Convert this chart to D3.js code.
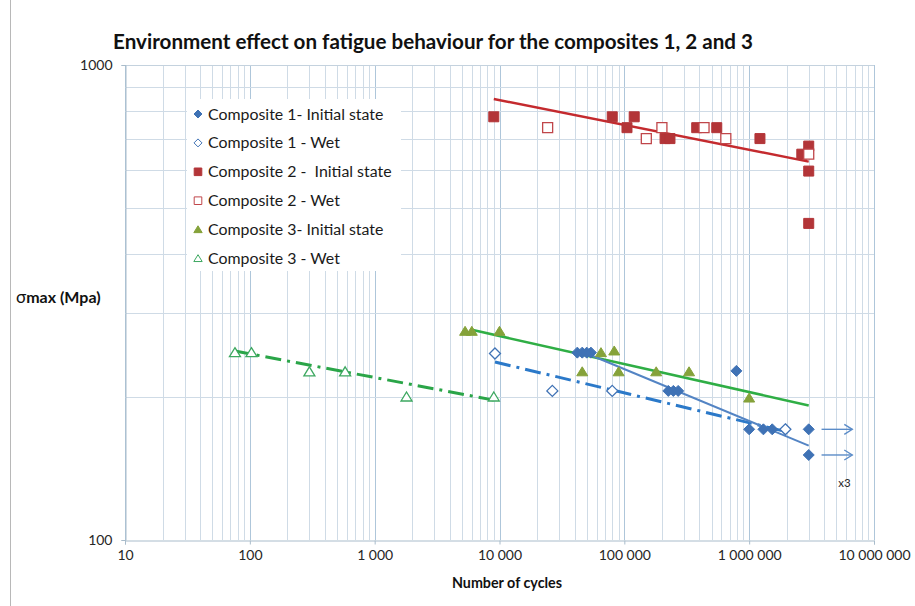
<!DOCTYPE html>
<html>
<head>
<meta charset="utf-8">
<script src="https://cdn.jsdelivr.net/npm/d3@7/dist/d3.min.js"></script>
<style>
  html, body { margin: 0; padding: 0; background: #fff; }
  svg { display: block; }
  text { font-family: Lato, "Open Sans", sans-serif; white-space: pre; }
</style>
</head>
<body>
<svg id="chart" width="915" height="606"></svg>
<script>
// Fatigue test results: [number of cycles, max stress (MPa)]
const comp1Initial = [[42000,248],[46000,248],[50000,248],[54000,248],[225000,206],[247000,206],[270000,206],[790000,227],[1000000,171],[1300000,171],[1530000,171],[3000000,171],[3000000,151]];
const comp1Wet = [[9200,247],[26500,206],[80000,206],[1950000,171]];
const comp2Initial = [[9000,778],[80000,778],[120000,778],[105000,738],[212000,700],[232000,700],[380000,738],[550000,738],[1220000,700],[2640000,649],[3000000,675],[3000000,598],[3000000,464]];
const comp2Wet = [[24300,738],[150000,700],[200000,738],[435000,738],[650000,700],[3000000,649]];
const comp3Initial = [[5300,275],[6000,275],[10000,275],[46000,226],[65000,248],[83000,250],[90000,226],[180000,226],[330000,226],[1000000,199]];
const comp3Wet = [[76,248],[103,248],[300,226],[580,226],[1800,200],[9000,200]];

// Power-law trend lines (start and end points)
const trend1Initial = [[50000,247],[3000000,158]];
const trend1Wet = [[9200,237],[2000000,169]];
const trend2Initial = [[9000,848],[3000000,626]];
const trend3Initial = [[6000,277],[3000000,192]];
const trend3Wet = [[76,250],[9000,197]];

// Run-out specimens (not broken at 3e6 cycles)
const runoutStress = [171, 151];
const runoutCycles = [3.8e6, 6.7e6];
const runoutLabel = "x3";

const xTickValues = [10,100,1000,10000,100000,1000000,10000000];
const xTickLabels = ["10","100","1 000","10 000","100 000","1 000 000","10 000 000"];
const yTickValues = [100,1000];
const yTickLabels = ["100","1000"];

const legendLabels = ["Composite 1- Initial state","Composite 1 - Wet","Composite 2 -  Initial state","Composite 2 - Wet","Composite 3- Initial state","Composite 3 - Wet"];

const svg = d3.select("#chart");
const x = d3.scaleLog().domain([10, 1e7]).range([125, 874]);
const y = d3.scaleLog().domain([100, 1000]).range([540, 65]);

// chart outer border
svg.append("line").attr("x1",10.5).attr("x2",10.5).attr("y1",0).attr("y2",606)
  .attr("stroke","#b8b8b8").attr("stroke-width",1);

// title
svg.append("text").attr("x",433).attr("y",49).attr("text-anchor","middle")
  .attr("font-size",20.6).attr("font-weight","bold").attr("fill","#111")
  .text("Environment effect on fatigue behaviour for the composites 1, 2 and 3");

// gridlines
const g = svg.append("g");
const minorX = [];
for (let e = 1; e < 7; e++) for (let m = 2; m <= 9; m++) minorX.push(m * Math.pow(10, e));
const minorY = [200,300,400,500,600,700,800,900];
g.selectAll(".vminor").data(minorX).join("line")
  .attr("x1",d=>Math.round(x(d))+0.5).attr("x2",d=>Math.round(x(d))+0.5)
  .attr("y1",y(1000)).attr("y2",y(100))
  .attr("stroke","#cfdbe6").attr("stroke-width",1);
g.selectAll(".vmajor").data(xTickValues).join("line")
  .attr("x1",d=>Math.round(x(d))+0.5).attr("x2",d=>Math.round(x(d))+0.5)
  .attr("y1",y(1000)).attr("y2",y(100))
  .attr("stroke","#aec6da").attr("stroke-width",1);
g.selectAll(".hminor").data(minorY).join("line")
  .attr("y1",d=>Math.round(y(d))+0.5).attr("y2",d=>Math.round(y(d))+0.5)
  .attr("x1",x(10)).attr("x2",x(1e7))
  .attr("stroke","#cfdbe6").attr("stroke-width",1);
g.append("line").attr("x1",x(10)).attr("x2",x(1e7))
  .attr("y1",Math.round(y(1000))+0.5).attr("y2",Math.round(y(1000))+0.5)
  .attr("stroke","#c4d2de");

// axes
const xAxis = d3.axisBottom(x).tickValues(xTickValues)
  .tickFormat((d,i)=>xTickLabels[i]).tickSize(4).tickPadding(6);
const yAxis = d3.axisLeft(y).tickValues(yTickValues)
  .tickFormat((d,i)=>yTickLabels[i]).tickSize(4).tickPadding(9);
const gx = svg.append("g").attr("transform",`translate(0,${Math.round(y(100))+0.5})`).call(xAxis);
const gy = svg.append("g").attr("transform",`translate(${Math.round(x(10))+0.5},0)`).call(yAxis);
[gx, gy].forEach(a => {
  a.select(".domain").attr("stroke","#a9bccb");
  a.selectAll(".tick line").attr("stroke","#a9bccb");
  a.selectAll(".tick text").attr("font-size",14).attr("fill","#262626")
    .attr("font-family","Lato, sans-serif");
});

// axis titles
svg.append("text").attr("x",507).attr("y",588).attr("text-anchor","middle")
  .attr("font-size",14.3).attr("font-weight","bold").attr("fill","#111")
  .text("Number of cycles");
const yt = svg.append("text").attr("x",16).attr("y",303)
  .attr("font-size",16).attr("font-weight","bold").attr("fill","#111");
yt.append("tspan").attr("font-weight","normal").attr("font-size",17).text("σ");
yt.append("tspan").text("max (Mpa)");

// legend (white box hides grid)
const legend = svg.append("g");
legend.append("rect").attr("x",187).attr("y",99).attr("width",214).attr("height",172).attr("fill","#fff");

// marker shapes
const shapes = {
  diamond: r => `M0,${-r}L${r},0L0,${r}L${-r},0Z`,
  square: r => `M${-r},${-r}H${r}V${r}H${-r}Z`,
  triangle: r => `M0,${-r}L${r*1.1},${r*0.8}L${-r*1.1},${r*0.8}Z`
};
const series = [
  {data: comp1Initial, shape:"diamond", fill:"#3f72b5", stroke:"#3f72b5"},
  {data: comp1Wet, shape:"diamond", fill:"#fff", stroke:"#3f72b5"},
  {data: comp2Initial, shape:"square", fill:"#b33538", stroke:"#b33538"},
  {data: comp2Wet, shape:"square", fill:"#fff", stroke:"#c0464a"},
  {data: comp3Initial, shape:"triangle", fill:"#85a23a", stroke:"#85a23a"},
  {data: comp3Wet, shape:"triangle", fill:"#fff", stroke:"#3da860"}
];

// trend lines
const line = d3.line().x(d=>x(d[0])).y(d=>y(d[1]));
const trends = [
  {data: trend2Initial, color:"#c42a2e", width:2.5, dash:null},
  {data: trend3Initial, color:"#2fae45", width:2.5, dash:null},
  {data: trend3Wet, color:"#2aa548", width:3, dash:"16,6,3,6"},
  {data: trend1Wet, color:"#2b79c9", width:3, dash:"16,6,3,6"},
  {data: trend1Initial, color:"#5384c4", width:2, dash:null}
];
const tg = svg.append("g");
trends.forEach(t => {
  tg.append("path").attr("d", line(t.data)).attr("fill","none")
    .attr("stroke", t.color).attr("stroke-width", t.width)
    .attr("stroke-dasharray", t.dash);
});

// markers
const mg = svg.append("g");
series.forEach(s => {
  mg.selectAll(null).data(s.data).join("path")
    .attr("transform", d => `translate(${x(d[0])},${y(d[1])})`)
    .attr("d", shapes[s.shape](s.shape === "diamond" ? 5.5 : 5))
    .attr("fill", s.fill).attr("stroke", s.stroke)
    .attr("stroke-width", s.fill === "#fff" ? 1.3 : 1);
});

// run-out arrows
const ag = svg.append("g").attr("stroke","#5b8cc8").attr("stroke-width",1.4).attr("fill","none");
runoutStress.forEach(s => {
  const x1 = x(runoutCycles[0]), x2 = x(runoutCycles[1]), yy = y(s);
  ag.append("line").attr("x1",x1).attr("x2",x2).attr("y1",yy).attr("y2",yy);
  ag.append("path").attr("d",`M${x2-8},${yy-5}L${x2},${yy}L${x2-8},${yy+5}`);
});
svg.append("text").attr("x", x(5.8e6)).attr("y", y(132)+4).attr("text-anchor","middle")
  .attr("font-size",11.5).attr("fill","#262626").text(runoutLabel);

// legend entries
const ly0 = 114, ldy = 28.9;
legendLabels.forEach((lab, i) => {
  const s = series[i];
  const yy = ly0 + i * ldy;
  legend.append("path").attr("transform",`translate(198,${yy})`)
    .attr("d", shapes[s.shape](s.shape === "diamond" ? 4 : 3.8))
    .attr("fill", s.fill).attr("stroke", s.stroke).attr("stroke-width",1);
  legend.append("text").attr("x",208).attr("y",yy+5.5)
    .attr("font-size",15.9).attr("fill","#1a1a1a").text(lab);
});
</script>
</body>
</html>
